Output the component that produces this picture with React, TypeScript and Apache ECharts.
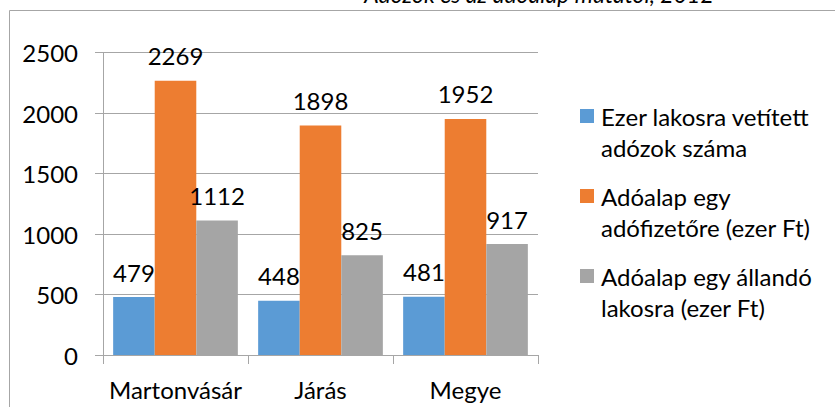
import React, { useEffect, useRef } from "react";
import * as echarts from "echarts";

const categories = ["Martonvásár", "Járás", "Megye"];
const seriesNames = [
  "Ezer lakosra vetített\nadózok száma",
  "Adóalap egy\nadófizetőre (ezer Ft)",
  "Adóalap egy állandó\nlakosra (ezer Ft)",
];
const taxpayersPerThousand = [479, 448, 481];
const basePerTaxpayer = [2269, 1898, 1952];
const basePerResident = [1112, 825, 917];
const colors = ["#5B9BD5", "#ED7D31", "#A5A5A5"];
const titleText = "Adózók és az adóalap mutatói, 2012";

export default function App() {
  const ref = useRef<HTMLDivElement>(null);
  useEffect(() => {
    document.body.style.margin = "0";
    if (!ref.current) return;
    const chart = echarts.init(ref.current, null, { renderer: "svg" });
    const font = "Lato, 'Open Sans', sans-serif";
    const values = [taxpayersPerThousand, basePerTaxpayer, basePerResident];
    const legendGraphics: any[] = [];
    seriesNames.forEach((name, i) => {
      legendGraphics.push({
        type: "rect",
        shape: { x: 580, y: 109 + 80 * i, width: 14, height: 14 },
        style: { fill: colors[i] },
      });
      legendGraphics.push({
        type: "text",
        x: 601,
        y: 101 + 80 * i,
        style: {
          text: name,
          fontFamily: font,
          fontSize: 24,
          lineHeight: 31,
          fill: "#000",
          align: "left",
          verticalAlign: "top",
        },
      });
    });
    chart.setOption({
      animation: false,
      grid: { left: 103, right: 297, top: 52.7, bottom: 52 },
      graphic: [
        {
          type: "rect",
          shape: { x: 9.5, y: 10.5, width: 1000, height: 600 },
          style: { fill: "none", stroke: "#a6a6a6", lineWidth: 1 },
        },
        {
          type: "text",
          x: 539,
          y: -6,
          style: {
            text: titleText,
            fontFamily: font,
            fontSize: 23,
            fontStyle: "italic",
            fill: "#000",
            align: "center",
            verticalAlign: "middle",
          },
        },
        ...legendGraphics,
      ],
      xAxis: {
        type: "category",
        data: categories,
        axisLine: { show: true, lineStyle: { color: "#a6a6a6", width: 1 } },
        axisTick: { show: true, length: 9, lineStyle: { color: "#a6a6a6" } },
        axisLabel: { interval: 0, fontFamily: font, fontSize: 24, color: "#000", margin: 22 },
      },
      yAxis: {
        type: "value",
        min: 0,
        max: 2500,
        interval: 500,
        axisLine: { show: true, lineStyle: { color: "#a6a6a6", width: 1 } },
        axisTick: { show: true, length: 8, lineStyle: { color: "#a6a6a6" } },
        axisLabel: {
          fontFamily: font,
          fontSize: 24,
          color: "#000",
          margin: 25,
          formatter: (v: number) => String(v),
        },
        splitLine: { show: true, lineStyle: { color: "#a6a6a6", width: 1 } },
      },
      series: values.map((v, i) => ({
        type: "bar",
        name: seriesNames[i],
        data: v,
        barGap: "0%",
        barCategoryGap: "14%",
        itemStyle: { color: colors[i] },
        label: {
          show: true,
          position: "top",
          distance: 13,
          fontFamily: font,
          fontSize: 24,
          color: "#000",
        },
      })),
    });
    return () => chart.dispose();
  }, []);
  return <div ref={ref} style={{ width: 835, height: 407 }} />;
}
